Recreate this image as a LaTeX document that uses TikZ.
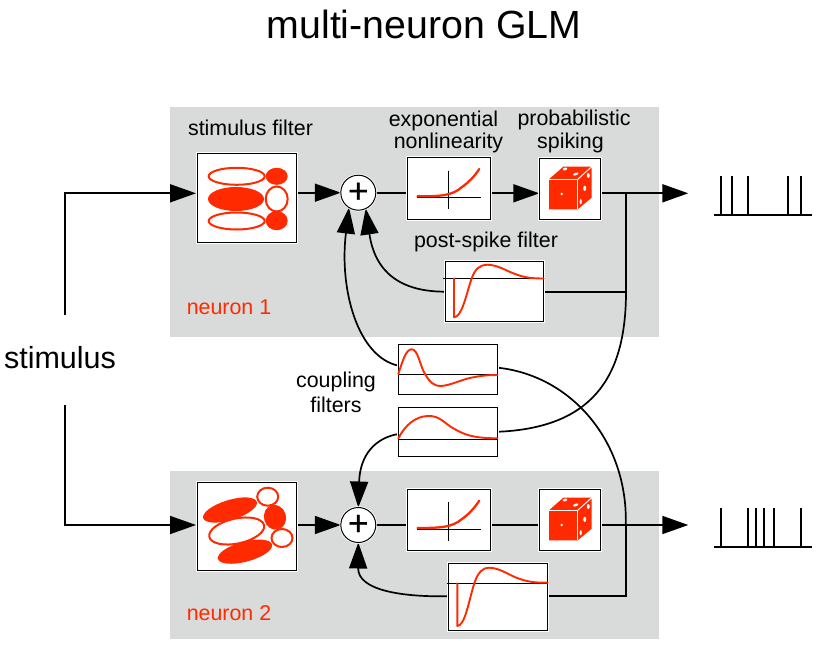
\documentclass[tikz,border=0pt]{standalone}
\usepackage{fontspec}
\setmainfont{Liberation Sans}
\newfontfamily\plusfont[FakeBold=0.5]{Liberation Sans}
\usetikzlibrary{arrows.meta}
\pgfdeclarelayer{back}
\pgfdeclarelayer{conn}
\pgfsetlayers{back,conn,main}
\definecolor{redc}{HTML}{FF2A00}
\definecolor{panelc}{HTML}{D9DADA}
\tikzset{
  boxn/.style={draw=black,line width=1pt,fill=white,inner sep=0pt,outer sep=0pt,preaction={draw=white,line width=3pt}},
  plusn/.style={circle,draw=black,line width=1pt,fill=white,inner sep=0pt,minimum size=35pt,outer sep=0pt,preaction={draw=white,line width=2.5pt},font=\plusfont\fontsize{35}{35}\selectfont},
  lbl/.style={font=\fontsize{21.4}{25}\selectfont,inner sep=0pt,align=center},
  redlbl/.style={lbl,text=redc},
  conl/.style={line width=1.7pt,black},
  arr/.style={conl,-{Triangle[length=26pt,width=18pt]}},
  curvel/.style={line width=1.9pt,redc,line join=round,line cap=round},
  thinl/.style={line width=1.1pt,black},
  outl/.style={draw=redc,line width=2pt},
  filled/.style={fill=redc},
  spk/.style={line width=2pt,black}
}
\newcommand{\dicedraw}[1]{%
  \begin{scope}[yshift=-#1pt]
    \fill[redc] (549,179.3) -- (563.3,166.7) -- (591.7,166.7) -- (591.7,197.7) -- (577.7,209.3) -- (549,209.3) -- cycle;
    \draw[white,line width=1pt] (547.5,180) -- (547.5,209.3);
    \draw[white,line width=1pt] (549,179.3) -- (577.7,179.3) -- (577.7,209.3);
    \draw[white,line width=1pt] (577.7,179.3) -- (592.5,166);
    \fill[white] (561.7,194) circle (1.4);
    \fill[white,rotate around={15:(565,169)}] (565,169) ellipse [x radius=2.2,y radius=1.3];
    \fill[white,rotate around={20:(575.7,174)}] (575.7,174) ellipse [x radius=2.8,y radius=1.3];
    \fill[white] (588.3,175.5) ellipse [x radius=1.5,y radius=2.4];
    \fill[white] (584.7,188.3) ellipse [x radius=1.5,y radius=2.6];
    \fill[white] (580.7,201.7) ellipse [x radius=1.1,y radius=2.6];
  \end{scope}}
\begin{document}
\begin{tikzpicture}[x=1pt,y=-1pt]
\useasboundingbox (0,0) rectangle (823,645);
\begin{pgfonlayer}{back}
  \fill[white] (0,0) rectangle (823,645);
  \fill[panelc] (170,107) rectangle (659,337);
  \fill[panelc] (170,471) rectangle (659,639);
\end{pgfonlayer}

\node[font=\fontsize{39.3}{39}\selectfont,inner sep=0pt] (title) at (424,24) {multi-neuron GLM};
\node[font=\fontsize{30.5}{30}\selectfont,inner sep=0pt] (stim) at (60,358) {stimulus};

% neuron 1 nodes
\node[boxn,minimum width=99.7pt,minimum height=89pt] (sf1) at (246.85,197.5) {};
\node[plusn] (plus1) at (358.3,192.7) {+};
\node[boxn,minimum width=82.7pt,minimum height=62pt] (nl1) at (448.65,188.3) {};
\node[boxn,minimum width=61.4pt,minimum height=61pt] (dc1) at (570,188.8) {};
\node[boxn,minimum width=98.4pt,minimum height=60pt] (ps1) at (494.5,291.3) {};
% coupling
\node[boxn,minimum width=99pt,minimum height=49.7pt] (cf1) at (447.8,369.15) {};
\node[boxn,minimum width=99pt,minimum height=49pt] (cf2) at (447.8,431.8) {};
% neuron 2 nodes
\node[boxn,minimum width=99.7pt,minimum height=87.7pt] (sf2) at (246.85,526.15) {};
\node[plusn] (plus2) at (358.3,525) {+};
\node[boxn,minimum width=82.7pt,minimum height=61pt] (nl2) at (448.65,519.8) {};
\node[boxn,minimum width=61.4pt,minimum height=61pt] (dc2) at (570,519.8) {};
\node[boxn,minimum width=99.4pt,minimum height=66.6pt] (ps2) at (498,597) {};

% free ends
\coordinate (s1) at (65,315);
\coordinate (s2) at (65,405);
\coordinate (in1) at (196,193.3);
\coordinate (in2) at (196,525);
\coordinate (out1) at (688.3,193.3);
\coordinate (out2) at (688.3,525);
\coordinate (j1) at (626,193.3);
\coordinate (j1b) at (626,291.7);
\coordinate (j2) at (625.8,525);
\coordinate (j2b) at (625.8,596.3);

\begin{pgfonlayer}{conn}
  \draw[arr] (s1) |- (in1);
  \draw[arr] (s2) |- (in2);
  % neuron 1
  \draw[arr] (sf1.east |- plus1) -- (plus1.west);
  \draw[conl] (plus1.east) -- (nl1.west |- plus1);
  \draw[arr] (nl1.east |- j1) -- (dc1.west |- j1);
  \draw[arr] (dc1.east |- j1) -- (out1);
  \draw[conl] (j1) -- (j1b) -- (ps1.east |- j1b);
  \draw[arr] (ps1.west |- j1b) .. controls (400,291.7) and (375,272) .. (plus1.-65);
  % neuron 2
  \draw[arr] (sf2.east |- plus2) -- (plus2.west);
  \draw[conl] (plus2.east) -- (nl2.west |- plus2);
  \draw[conl] (nl2.east |- j2) -- (dc2.west |- j2);
  \draw[arr] (dc2.east |- j2) -- (out2);
  \draw[conl] (j2) -- (j2b) -- (ps2.east |- j2b);
  \draw[arr] (ps2.west |- j2b) .. controls (400,597) and (358,590) .. (plus2.south);
  % coupling
  \draw[arr] ([yshift=3.5pt]cf1.west) .. controls (358,357) and (339,290) .. (plus1.-122);
  \draw[conl] ([yshift=1.5pt]cf1.east) .. controls (570,375) and (628,440) .. (j2);
  \draw[conl] (cf2.east) .. controls (590,428) and (626,380) .. (j1b);
  \draw[arr] ([yshift=-2.2pt]cf2.west) .. controls (375,438) and (360,455) .. (plus2.north);
\end{pgfonlayer}

% labels
\node[lbl] (l1) at (250.5,128) {stimulus filter};
\node[lbl] (l2a) at (443.5,121) {exponential};
\node[lbl] (l2b) at (448.5,143) {nonlinearity};
\node[lbl] (l3a) at (574,120) {probabilistic};
\node[lbl] (l3b) at (570.5,143) {spiking};
\node[lbl] (l4) at (486,242) {post-spike filter};
\node[redlbl] (l5) at (229,307) {neuron 1};
\node[redlbl] (l6) at (229,613) {neuron 2};
\node[lbl] (l7) at (336,392.5) {coupling\\filters};

% stimulus filter 1 pictograms
\draw[outl] (236.7,176.3) ellipse [x radius=28,y radius=8.5];
\fill[filled] (236,199) ellipse [x radius=28,y radius=12];
\draw[outl] (236.7,221) ellipse [x radius=28,y radius=8.5];
\fill[filled] (276.7,176.3) ellipse [x radius=11,y radius=8.5];
\draw[outl] (276.7,199) ellipse [x radius=11,y radius=12.5];
\fill[filled] (276.7,220.7) ellipse [x radius=11,y radius=9.5];
% stimulus filter 2 pictograms
\fill[filled,rotate around={17:(230,510)}] (230,510) ellipse [x radius=28,y radius=10];
\draw[outl,rotate around={12:(236.7,531)}] (236.7,531) ellipse [x radius=28,y radius=12.5];
\fill[filled,rotate around={15:(245,551.7)}] (245,551.7) ellipse [x radius=28,y radius=10];
\draw[outl] (267.7,496.7) ellipse [x radius=10.5,y radius=9];
\fill[filled,rotate around={15:(275,517.3)}] (275,517.3) ellipse [x radius=11,y radius=12.5];
\draw[outl] (282,538) ellipse [x radius=10.5,y radius=9];

% nonlinearity 1
\draw[thinl] (417,197.3) -- (481,197.3);
\draw[thinl] (448.7,170.7) -- (448.7,209.3);
\draw[curvel,line width=2.3pt] (417.5,196.3) .. controls (440,196.3) and (452,196) .. (462,187) .. controls (469,182) and (474,177) .. (479.3,169);
% nonlinearity 2
\draw[thinl] (417,529.3) -- (480.7,529.3);
\draw[thinl] (448.3,502.3) -- (448.3,540.7);
\draw[curvel,line width=2.3pt] (417.5,528) .. controls (440,528) and (452,527.5) .. (462,519) .. controls (469,514) and (474,508.5) .. (479.3,500.7);

% post-spike 1
\draw[thinl] (443.3,278.3) -- (543.7,278.3);
\draw[curvel] (454,278.3) -- (454,317.3) .. controls (462,317) and (466,295) .. (471.7,278.3) .. controls (475,269) and (480,264.7) .. (487.3,264.7) .. controls (498,264.7) and (508,272) .. (516.7,274.5) .. controls (525,278) and (535,278.5) .. (543.7,278.5);
% post-spike 2
\draw[thinl] (446.7,583.3) -- (547.7,583.3);
\draw[curvel] (457.3,583.3) -- (457.3,626) .. controls (465,626) and (469,600) .. (474.3,583.3) .. controls (478,572) and (483,567.7) .. (489,567.7) .. controls (500,567.7) and (510,576) .. (520,579) .. controls (530,582.5) and (538,582.7) .. (547.7,582.7);
% coupling 1
\draw[thinl] (398.3,374.3) -- (497.3,374.3);
\draw[curvel] (398.3,374) .. controls (403,360) and (406,349.3) .. (411.7,349.3) .. controls (418,349.3) and (420,366) .. (425,374) .. controls (430,383) and (435,386) .. (440,386) .. controls (450,386) and (462,379) .. (473.3,377.3) .. controls (482,375.5) and (490,375) .. (497.3,375);
% coupling 2
\draw[thinl] (398.3,439.4) -- (497.3,439.4);
\draw[curvel] (398.3,438.5) .. controls (405,425) and (416,416) .. (428.3,416) .. controls (440,415.5) and (445,424) .. (453.3,428.3) .. controls (463,434) and (472,438.3) .. (497.3,438.3);

% dice
\dicedraw{0}
\dicedraw{331}

% spike trains
\draw[spk] (714,215) -- (812.3,215);
\foreach \x in {721,732,748,788,801} \draw[spk] (\x,176) -- (\x,215);
\draw[spk] (714,547) -- (812.3,547);
\foreach \x in {721,748,756,764,774,801} \draw[spk] (\x,508.3) -- (\x,547);
\end{tikzpicture}
\end{document}
